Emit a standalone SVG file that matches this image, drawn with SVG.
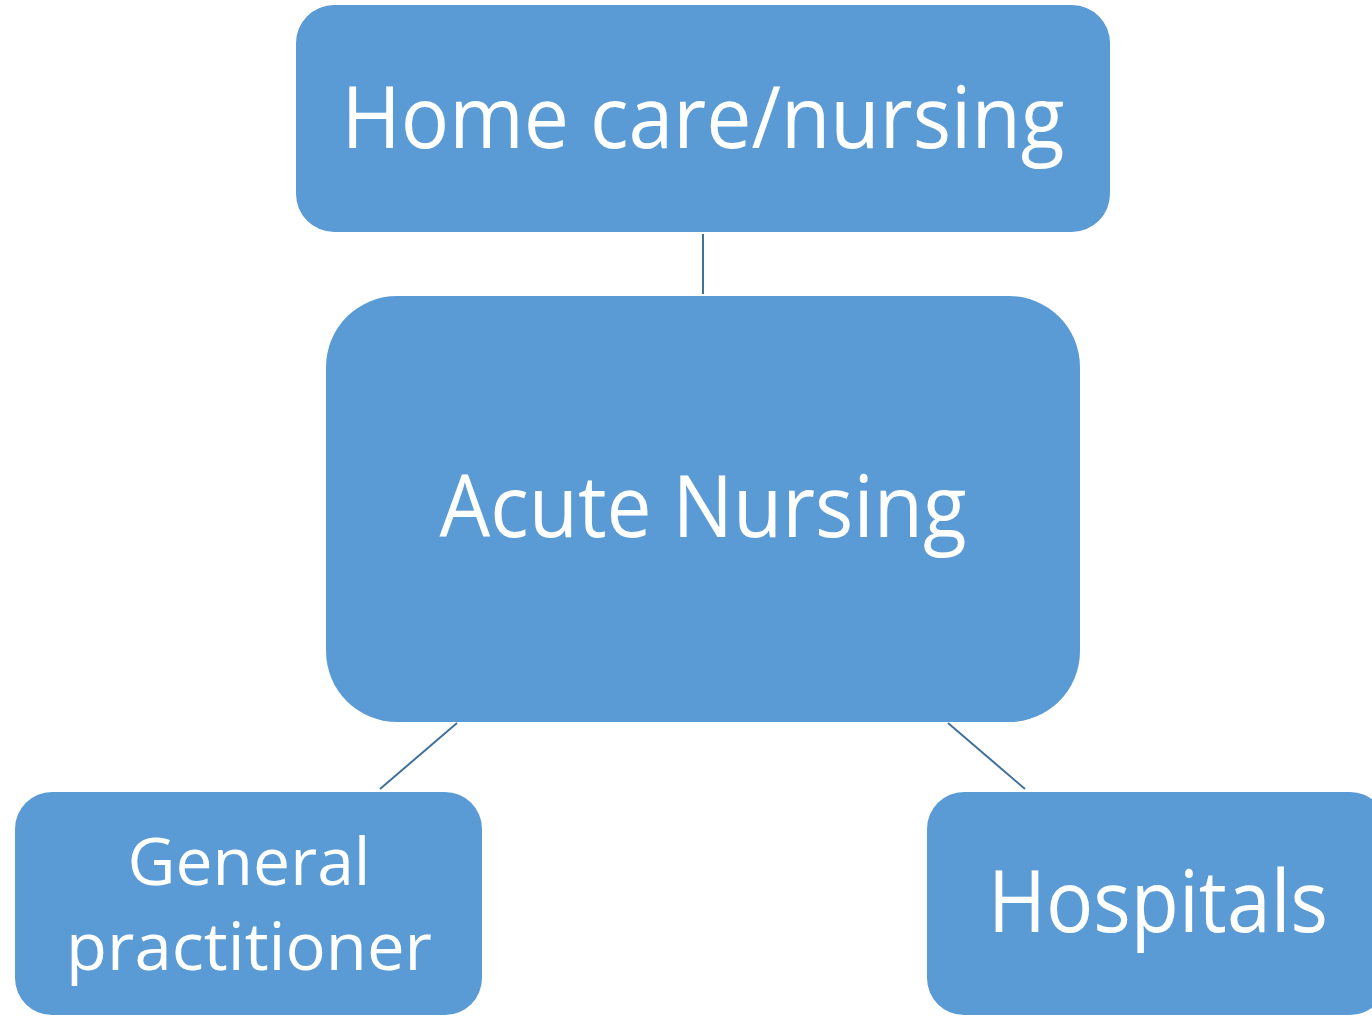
<svg xmlns="http://www.w3.org/2000/svg" width="1372" height="1016" viewBox="0 0 1372 1016">
<style>
.box{fill:#5B9BD5;}
.lbl{fill:#FFFFFF;font-family:"Open Sans","Liberation Sans",sans-serif;text-anchor:middle;}
.conn{stroke:#41719C;stroke-width:2;fill:none;}
</style>
<rect width="1372" height="1016" fill="#FFFFFF"/>
<g id="connectors">
<line class="conn" x1="703" y1="234" x2="703" y2="294"/>
<line class="conn" x1="457" y1="723" x2="380" y2="789"/>
<line class="conn" x1="948" y1="723" x2="1025" y2="789"/>
</g>
<g id="home-care">
<rect class="box" x="296" y="5" width="814" height="227" rx="38" ry="38"/>
<text class="lbl" x="703" y="148" font-size="86" textLength="723" lengthAdjust="spacingAndGlyphs">Home care/nursing</text>
</g>
<g id="acute-nursing">
<rect class="box" x="326" y="296" width="754" height="426" rx="71" ry="71"/>
<text class="lbl" x="703" y="537" font-size="86" textLength="527" lengthAdjust="spacingAndGlyphs">Acute Nursing</text>
</g>
<g id="general-practitioner">
<rect class="box" x="15" y="792" width="467" height="223" rx="37" ry="37"/>
<text class="lbl" x="249" y="885" font-size="66" textLength="243" lengthAdjust="spacingAndGlyphs">General</text>
<text class="lbl" x="249" y="970" font-size="66" textLength="366" lengthAdjust="spacingAndGlyphs">practitioner</text>
</g>
<g id="hospitals">
<rect class="box" x="927" y="792" width="460" height="223" rx="37" ry="37"/>
<text class="lbl" x="1158" y="932" font-size="86" textLength="340" lengthAdjust="spacingAndGlyphs">Hospitals</text>
</g>
</svg>
